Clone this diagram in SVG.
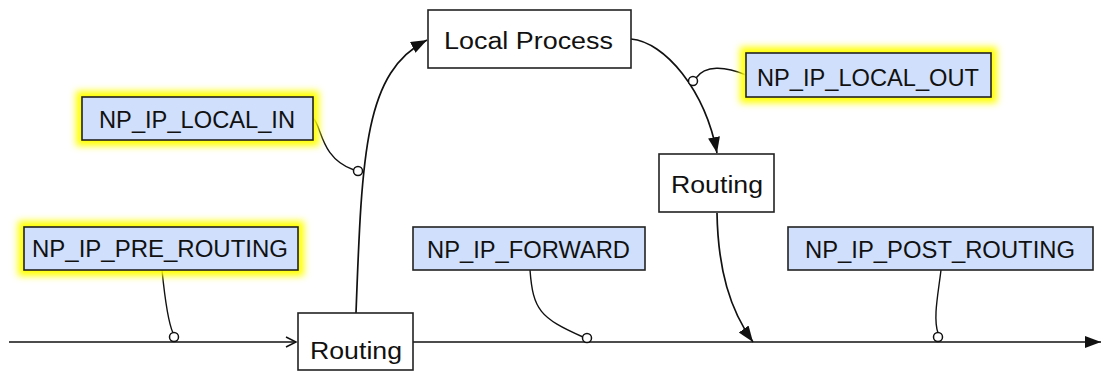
<svg xmlns="http://www.w3.org/2000/svg" width="1102" height="371" viewBox="0 0 1102 371">
<style>
.hook{fill:#d0dffb;stroke:#222;stroke-width:1.6}
.proc{fill:#fff;stroke:#222;stroke-width:1.6}
.glow{fill:#ffff00;stroke:#ffff00;stroke-width:12;filter:url(#blur)}
text{font-family:"Liberation Sans",Arial,Helvetica,sans-serif;font-size:23px;fill:#111}
.flow{fill:none;stroke:#111;stroke-width:1.7}
.link{fill:none;stroke:#111;stroke-width:1.4}
.pin{fill:#fff;stroke:#111;stroke-width:1.5}
</style>
<defs>
<filter id="blur" x="-20%" y="-60%" width="140%" height="220%"><feGaussianBlur stdDeviation="3.5"/></filter>
<marker id="fill" markerUnits="userSpaceOnUse" markerWidth="18" markerHeight="13" refX="16" refY="6" orient="auto"><path d="M0,0 L16,6 L0,12 z" fill="#111"/></marker>
<marker id="open" markerUnits="userSpaceOnUse" markerWidth="14" markerHeight="14" refX="11" refY="6" orient="auto"><path d="M1,1 L11,6 L1,11" fill="none" stroke="#111" stroke-width="1.5"/></marker>
</defs>

<g id="connectors">
<path class="flow" d="M9,342 L296,342" marker-end="url(#open)"/>
<path class="flow" d="M413,342 L1101,342" marker-end="url(#fill)"/>
<path class="flow" d="M356,313 C362,150 365,72 427,40" marker-end="url(#fill)"/>
<path class="flow" d="M631,39 C665,42 705,90 717,153" marker-end="url(#fill)"/>
<path class="flow" d="M717,213 C718,270 730,310 753,342" marker-end="url(#fill)"/>
<path class="link" d="M162,270 C165,300 168,322 173,333"/>
<path class="link" d="M313,118 C322,126 320,158 354,170"/>
<path class="link" d="M696,78 C705,65 725,66 746,75"/>
<path class="link" d="M530,270 C533,310 540,318 583,337"/>
<path class="link" d="M941,270 C938,295 933,318 938,333"/>
<circle class="pin" cx="174" cy="337" r="4.5"/>
<circle class="pin" cx="358" cy="171" r="4.5"/>
<circle class="pin" cx="693" cy="81" r="4.5"/>
<circle class="pin" cx="587" cy="338" r="4.5"/>
<circle class="pin" cx="938" cy="337" r="4.5"/>
</g>

<g id="pre_routing">
<rect class="glow" x="24" y="227" width="274" height="43"/>
<rect class="hook" x="24" y="227" width="274" height="43"/>
<text x="32" y="257" textLength="256" lengthAdjust="spacingAndGlyphs">NP_IP_PRE_ROUTING</text>
</g>
<g id="local_in">
<rect class="glow" x="82" y="97" width="231" height="43"/>
<rect class="hook" x="82" y="97" width="231" height="43"/>
<text x="99" y="128" textLength="196" lengthAdjust="spacingAndGlyphs">NP_IP_LOCAL_IN</text>
</g>
<g id="local_out">
<rect class="glow" x="746" y="53" width="245" height="44"/>
<rect class="hook" x="746" y="53" width="245" height="44"/>
<text x="757" y="86" textLength="222" lengthAdjust="spacingAndGlyphs">NP_IP_LOCAL_OUT</text>
</g>
<g id="forward">
<rect class="hook" x="413" y="227" width="232" height="43"/>
<text x="427" y="258" textLength="203" lengthAdjust="spacingAndGlyphs">NP_IP_FORWARD</text>
</g>
<g id="post_routing">
<rect class="hook" x="788" y="227" width="305" height="43"/>
<text x="805" y="258" textLength="270" lengthAdjust="spacingAndGlyphs">NP_IP_POST_ROUTING</text>
</g>
<g id="local_process">
<rect class="proc" x="428" y="10" width="203" height="58"/>
<text x="444" y="49" textLength="169" lengthAdjust="spacingAndGlyphs">Local Process</text>
</g>
<g id="routing_in">
<rect class="proc" x="298" y="313" width="115" height="57"/>
<text x="310" y="359" textLength="92" lengthAdjust="spacingAndGlyphs">Routing</text>
</g>
<g id="routing_out">
<rect class="proc" x="659" y="154" width="115" height="58"/>
<text x="671" y="193" textLength="92" lengthAdjust="spacingAndGlyphs">Routing</text>
</g>
</svg>
